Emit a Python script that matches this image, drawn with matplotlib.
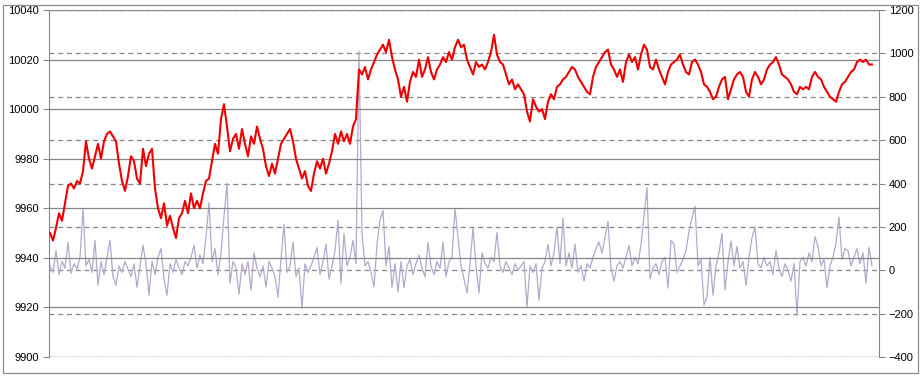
import numpy as np
import matplotlib
matplotlib.use("Agg")
import matplotlib.pyplot as plt
from matplotlib.patches import Rectangle

# Price series (left axis)
price = [
    9950, 9947, 9952, 9958, 9955, 9962, 9969, 9970, 9968, 9971,
    9970, 9975, 9987, 9980, 9976, 9981, 9986, 9980, 9987, 9990,
    9991, 9989, 9987, 9978, 9971, 9967, 9973, 9981, 9979, 9972,
    9970, 9984, 9977, 9982, 9984, 9968, 9960, 9956, 9962, 9953,
    9957, 9952, 9948, 9956, 9958, 9963, 9958, 9966, 9960, 9963,
    9960, 9966, 9971, 9972, 9979, 9986, 9982, 9996, 10002, 9993,
    9983, 9988, 9990, 9984, 9992, 9986, 9981, 9989, 9986, 9993,
    9988, 9984, 9977, 9973, 9978, 9974, 9980, 9986, 9988, 9990,
    9992, 9987, 9980, 9976, 9972, 9975, 9969, 9967, 9974, 9979,
    9976, 9980, 9974, 9978, 9983, 9990, 9986, 9991, 9987, 9990,
    9986, 9993, 9996, 10016, 10014, 10017, 10012, 10016, 10019, 10022,
    10024, 10026, 10023, 10028, 10021, 10016, 10012, 10005, 10009, 10003,
    10011, 10015, 10013, 10020, 10013, 10016, 10021, 10015, 10012, 10016,
    10018, 10021, 10019, 10023, 10020, 10025, 10028, 10025, 10026, 10020,
    10017, 10014, 10019, 10017, 10018, 10016, 10019, 10023, 10030, 10022,
    10019, 10018, 10014, 10010, 10012, 10008, 10010, 10008, 10006, 9999,
    9995, 10004, 10001, 9999, 10000, 9996, 10003, 10006, 10004, 10009,
    10010, 10012, 10013, 10015, 10017, 10016, 10013, 10011, 10009, 10007,
    10006, 10013, 10017, 10019, 10021, 10023, 10024, 10018, 10016, 10013,
    10016, 10011, 10019, 10022, 10019, 10021, 10016, 10022, 10026, 10024,
    10017, 10016, 10020, 10016, 10013, 10010, 10015, 10018, 10019, 10020,
    10022, 10018, 10015, 10014, 10019, 10020, 10018, 10015, 10010, 10009,
    10007, 10004, 10005, 10009, 10012, 10013, 10004, 10008, 10012, 10014,
    10015, 10013, 10007, 10005, 10012, 10015, 10013, 10010, 10012, 10016,
    10018, 10019, 10021, 10018, 10014, 10013, 10012, 10010, 10007, 10006,
    10009, 10008, 10009, 10008, 10013, 10015, 10013, 10012, 10009, 10007,
    10005, 10004, 10003, 10007, 10010, 10011, 10013, 10015, 10016, 10019,
    10020, 10019, 10020, 10018, 10018,
]

# Secondary series (right axis)
delta = [
    20, -10, 90, -20, 40, 10, 130, -15, 30, 5,
    60, 285, 20, 50, -10, 138, -69, 40, -20, 60,
    138, -30, -69, 20, -10, 40, 5, -30, 30, -78,
    20, 115, 30, -115, 40, -20, 60, 100, -40, -115,
    30, -10, 50, 10, -20, 40, 20, 60, 115, 10,
    70, 30, 150, 313, 40, 100, -20, 80, 250, 400,
    -60, 40, 10, -110, 30, -20, 40, -92, 80, 10,
    -30, 20, -78, 40, 10, -30, -124, 50, 212, -10,
    20, 130, -30, 10, -175, 30, -10, 20, 60, 105,
    -20, 40, 120, -40, 20, 90, 230, -60, 170, 20,
    60, 138, 30, 1010, 175, 20, 40, -10, -78, 120,
    230, 276, 20, 110, -78, 30, -100, 40, -80, 20,
    50, -20, 30, 70, 10, -30, 128, 20, -20, 40,
    10, 130, -30, 40, 60, 285, 150, 20, -40, -105,
    30, 195, 20, -105, 80, 30, 10, 60, 40, 175,
    20, -10, 40, 10, -20, 30, 0, 20, 40, -170,
    20, -10, 30, -138, 10, 40, 120, 20, 80, 200,
    30, 240, 20, 80, 10, 120, -10, 20, -50, 30,
    10, 60, 100, 130, 80, 150, 225, 10, -50, 20,
    40, 10, 60, 115, 20, 60, 30, 120, 250, 380,
    -40, 10, 30, -20, 40, 60, -82, 138, 120, -10,
    20, 50, 90, 180, 240, 295, 20, 50, -160, -124,
    60, -115, 20, 80, 170, -90, 40, 135, 20, 110,
    10, 40, -70, 60, 150, 200, 30, 10, 60, 20,
    40, -20, 90, 10, -30, 30, 0, -50, 30, -210,
    40, 60, 20, 80, 40, 155, 110, 20, 50, -80,
    20, 60, 125, 245, 50, 100, 90, 20, 60, 100,
    30, 80, -60, 105, 20,
]

left_ticks = [9900, 9920, 9940, 9960, 9980, 10000, 10020, 10040]
right_ticks = [-400, -200, 0, 200, 400, 600, 800, 1000, 1200]

W, H = 923, 377
fig = plt.figure(figsize=(W / 100, H / 100), dpi=100)
fig.patch.set_facecolor("white")

x0, x1 = 49, 879
y_top, y_bot = 10, 357
ax1 = fig.add_axes([x0 / W, (H - y_bot) / H, (x1 - x0) / W, (y_bot - y_top) / H])
ax2 = ax1.twinx()

n = len(price)
xs = np.arange(n)
xs2 = np.arange(len(delta))

ax2.plot(xs2, delta, color="#b4a8cc", lw=0.9, zorder=2)
ax1.plot(xs, price, color="#ee0000", lw=1.5, zorder=3)

# x-range: points are ~3 px apart, first at px 50
ax1.set_xlim(-1 / 3, n - 1 + 7 / 3)
ax1.set_ylim(9900, 10040)
ax2.set_ylim(-400, 1200)
ax1.set_yticks(left_ticks)
ax2.set_yticks(right_ticks)
ax1.set_xticks([])

ax1.set_zorder(ax2.get_zorder() + 1)
ax1.patch.set_visible(False)

ax1.yaxis.grid(True, color="#868686", lw=0.9, ls="-")
ax2.yaxis.grid(True, color="#868686", lw=0.9, ls=(0, (4, 3)))
ax1.set_axisbelow(True)
ax2.set_axisbelow(True)

for ax in (ax1, ax2):
    for s in ("top", "bottom"):
        ax.spines[s].set_visible(False)
    ax.spines["left"].set_color("#868686")
    ax.spines["right"].set_color("#868686")
    ax.tick_params(axis="y", direction="out", length=4, width=0.8,
                   color="#868686", labelsize=8, labelcolor="#000000", pad=3)
ax2.spines["left"].set_visible(False)
ax1.spines["right"].set_visible(False)

for lab in ax1.get_yticklabels() + ax2.get_yticklabels():
    lab.set_fontfamily("Liberation Sans")

# outer chart frame
fig.patches.append(Rectangle((3 / W, 4 / H), 915 / W, 368 / H, transform=fig.transFigure,
                             fill=False, edgecolor="#8c8c8c", lw=0.9))

fig.savefig("out.png", dpi=100)
